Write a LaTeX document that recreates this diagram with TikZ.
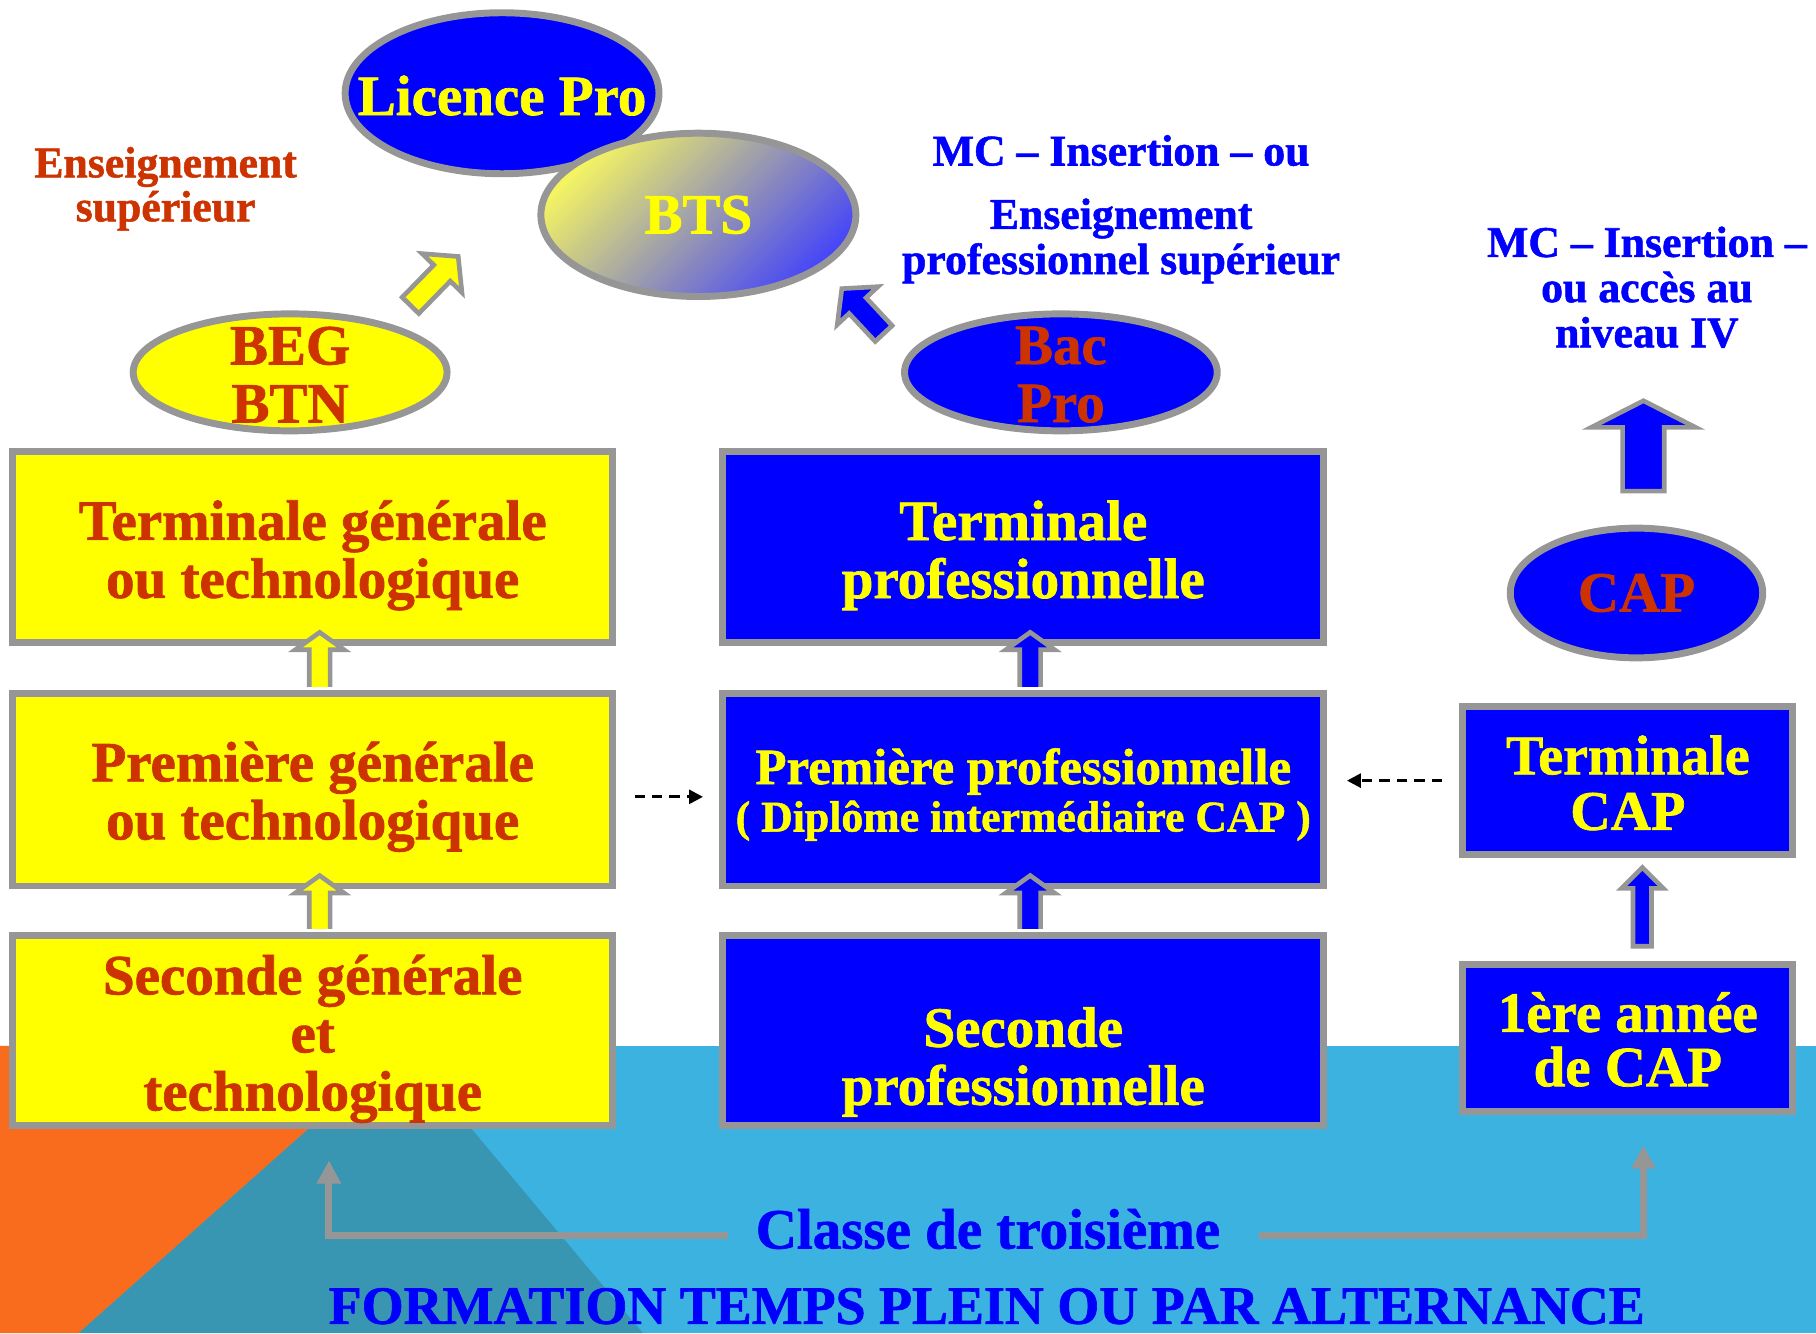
\documentclass[tikz,border=0pt]{standalone}
\usepackage{fontspec}
\setmainfont[BoldFeatures={FakeBold=1.2}]{Liberation Serif}
\usetikzlibrary{shapes.geometric,arrows.meta,calc}
\definecolor{jaune}{HTML}{FFFF00}
\definecolor{rouille}{HTML}{CC3300}
\definecolor{bleu}{HTML}{0000FF}
\definecolor{gris}{HTML}{969696}
\definecolor{ciel}{HTML}{3BB2DF}
\definecolor{sarcelle}{HTML}{3996B2}
\definecolor{orangevif}{HTML}{F96B1D}
\definecolor{btsjaune}{HTML}{F4F463}
\definecolor{btsbleu}{HTML}{4747F7}
\newcommand{\taille}[2]{\fontsize{#1}{#2}\selectfont}
\begin{document}
\begin{tikzpicture}[x=0.2mm, y=-0.2mm, line join=miter, font=\bfseries]
	\tikzset{cadre/.style={rectangle, draw=gris, line width=1.2mm, inner sep=0pt},
		cadrejaune/.style={cadre, fill=jaune, minimum width=103.6mm},
		cadrebleu/.style={cadre, fill=bleu, minimum width=103.8mm},
		cadrecap/.style={cadre, fill=bleu, minimum width=57mm},
		bulle/.style={ellipse, draw=gris, line width=1.2mm, inner sep=0pt},
		etiquette/.style={align=center, font=\bfseries\taille{28}{28.5}},
		textejaune/.style={etiquette, text=rouille, yshift=-1.4mm},
		textebleu/.style={etiquette, text=jaune, yshift=-1.4mm},
		fleche/.style={draw=gris, line width=0.8mm},
		pointille/.style={black, line width=0.5mm, dash pattern=on 1.8mm off 1.2mm, -{Triangle[length=2.4mm,width=2.4mm]}},
		renvoi/.style={gris, line width=1.2mm, -{Triangle[length=4mm,width=4mm]}},
		titre/.style={align=center, text=bleu, font=\bfseries\taille{21.5}{22.2}}}
	\useasboundingbox (0,0) rectangle (1568,1151);
	% fond
	\fill[ciel] (0,903) rectangle (1568,1151);
	\fill[orangevif] (0,903) -- (347,903) -- (68,1151) -- (0,1151) -- cycle;
	\fill[sarcelle] (347,903) -- (555,1151) -- (68,1151) -- cycle;
	% voie generale
	\node[cadrejaune, minimum height=33mm, label={[textejaune]center:{Terminale générale\\ou technologique}}] (tg) at (270,472.5) {};
	\node[cadrejaune, minimum height=33.2mm, label={[textejaune, yshift=0.2mm]center:{Première générale\\ou technologique}}] (pg) at (270,682) {};
	\node[cadrejaune, minimum height=32.8mm, label={[textejaune]center:{Seconde générale\\et\\technologique}}] (sg) at (270,890) {};
	% voie professionnelle
	\node[cadrebleu, minimum height=33mm, label={[textebleu]center:{Terminale\\professionnelle}}] (tp) at (883.5,472.5) {};
	\node[cadrebleu, minimum height=33.2mm, label={[textebleu, font=\bfseries\taille{25}{23.3}, yshift=0.6mm]center:{Première professionnelle\\{\taille{21.5}{23.3}( Diplôme intermédiaire CAP )}}}] (pp) at (883.5,682) {};
	\node[cadrebleu, minimum height=32.8mm, label={[textebleu, yshift=-4mm]center:{Seconde\\professionnelle}}] (sp) at (883.5,890) {};
	% CAP
	\node[cadrecap, minimum height=25.6mm, label={[textebleu, font=\bfseries\taille{27.5}{27.3}, yshift=1mm]center:{Terminale\\CAP}}] (tcap) at (1405.5,674) {};
	\node[cadrecap, minimum height=25.4mm, label={[textebleu, font=\bfseries\taille{28}{26.7}, yshift=1.2mm]center:{1ère année\\de CAP}}] (cap1) at (1405.5,896.5) {};
	% diplomes
	\node[bulle, fill=jaune, minimum width=54.2mm, minimum height=20.2mm, label={[etiquette, text=rouille, yshift=-0.4mm]center:{BEG\\BTN}}] (beg) at (250.5,321.5) {};
	\node[bulle, fill=bleu, minimum width=54mm, minimum height=20.2mm, label={[etiquette, text=rouille, yshift=-0.4mm]center:{Bac\\Pro}}] (bac) at (916,321.5) {};
	\node[bulle, fill=bleu, minimum width=43.6mm, minimum height=22.4mm, label={[etiquette, text=rouille]center:CAP}] (capE) at (1413,512) {};
	\node[bulle, fill=bleu, minimum width=54.2mm, minimum height=27.8mm, label={[etiquette, text=jaune, yshift=-0.4mm]center:Licence Pro}] (licence) at (433.5,80.5) {};
	\node[bulle, top color=btsjaune, bottom color=btsbleu, shading angle=45, minimum width=54.4mm, minimum height=28.2mm, label={[etiquette, text=jaune]center:BTS}] (bts) at (603,185.5) {};
	% fleches pleines
	\foreach \bas/\haut/\coul in {sg/pg/jaune, pg/tg/jaune, sp/pp/bleu, pp/tp/bleu}{
		\coordinate (b) at ($(\bas.north)+(6,-3)$);
		\coordinate (h) at ($(\haut.south)+(6,3)$);
		\filldraw[fleche, fill=\coul] ($(b)+(-9,0)$) -- ($(h)+(-9,0)$) -- ($(h)+(-21,0)$) -- ($(h)+(0,-15)$) -- ($(h)+(21,0)$) -- ($(h)+(9,0)$) -- ($(b)+(9,0)$);
	}
	\coordinate (fc) at ($(cap1.north)+(12.5,0)$);
	\filldraw[fleche, fill=bleu] ($(fc)+(-8,-13)$) -- ($(fc)+(-8,-63)$) -- ($(fc)+(-18,-63)$) -- ($(fc)+(0,-81)$) -- ($(fc)+(18,-63)$) -- ($(fc)+(8,-63)$) -- ($(fc)+(8,-13)$) -- cycle;
	\coordinate (fg) at ($(capE.north)+(6,0)$);
	\filldraw[fleche, fill=bleu] ($(fg)+(-18,-29)$) -- ($(fg)+(-18,-84)$) -- ($(fg)+(-45,-84)$) -- ($(fg)+(0,-107)$) -- ($(fg)+(45,-84)$) -- ($(fg)+(18,-84)$) -- ($(fg)+(18,-29)$) -- cycle;
	\coordinate (flj) at ($(beg.north east)+(6,-20)$);
	\filldraw[fleche, fill=jaune, shift={(flj)}, rotate=45.7] (0,-10) -- (39,-10) -- (39,-24) -- (59,0) -- (39,24) -- (39,10) -- (0,10) -- cycle;
	\coordinate (flb) at (763,288);
	\filldraw[fleche, fill=bleu, shift={(flb)}, rotate=133] (0,-10) -- (33,-10) -- (33,-24) -- (53,0) -- (33,24) -- (33,10) -- (0,10) -- cycle;
	% passerelles
	\draw[pointille, shorten <=3.2mm, shorten >=2.8mm] ([yshift=-1.2mm]pg.east) -- ([yshift=-1.2mm]pp.west);
	\draw[pointille, shorten <=3mm, shorten >=3.4mm] (tcap.west) -- (pp.east|-tcap.west);
	% textes
	\node[align=center, text=rouille, font=\bfseries\taille{21.5}{21.6}] (sup) at (143,163) {Enseignement\\supérieur};
	\node[titre] (mc) at (968,130) {MC – Insertion – ou};
	\node[titre] (eps) at (968,208) {Enseignement\\professionnel supérieur};
	\node[titre] (mcd) at (1422,248) {MC – Insertion –\\ou accès au\\niveau IV};
	\node[text=bleu, font=\bfseries\taille{28}{28}, anchor=base] (troisieme) at (853,1078) {Classe de troisième};
	\node[text=bleu, font=\bfseries\taille{26.5}{26.5}, anchor=base] (formation) at (852,1143) {FORMATION TEMPS PLEIN OU PAR ALTERNANCE};
	\coordinate (pointeg) at (284,1002);
	\coordinate (pointed) at (1419,989);
	\draw[renvoi, shorten <=3.6mm] ([yshift=-1.2mm]troisieme.west) -| (pointeg);
	\draw[renvoi, shorten <=5.4mm] ([yshift=-1.2mm]troisieme.east) -| (pointed);
\end{tikzpicture}
\end{document}
